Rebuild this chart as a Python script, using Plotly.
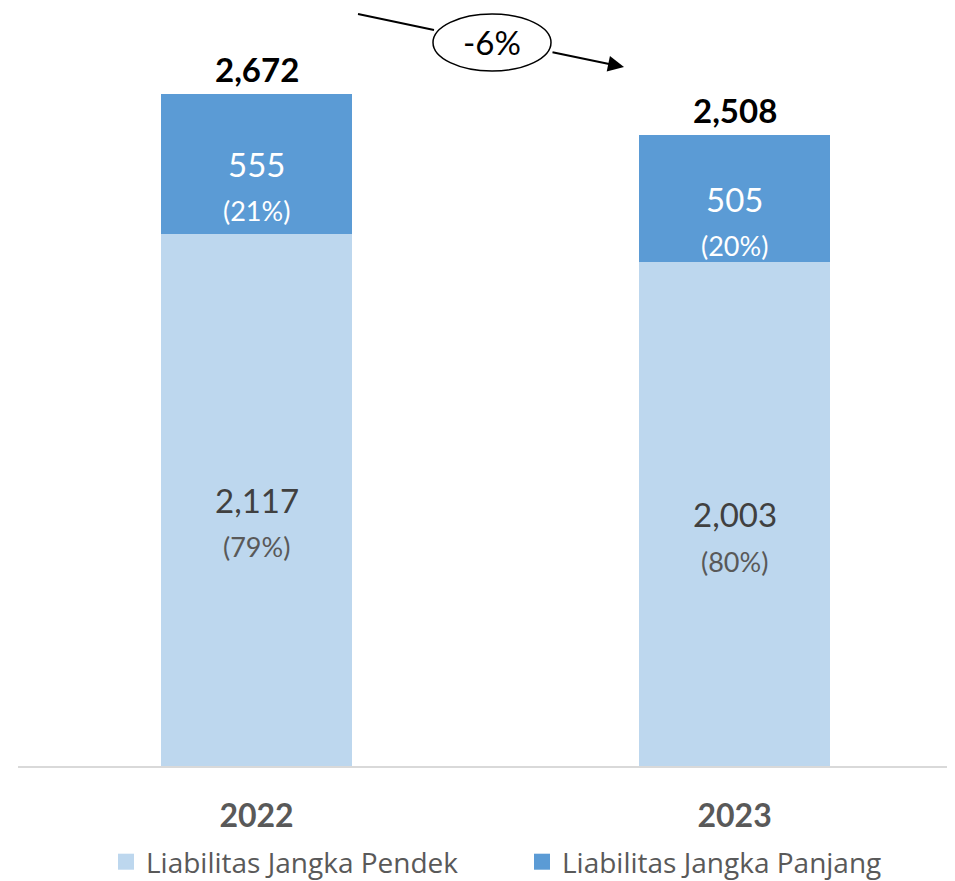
import plotly.graph_objects as go

years = ["2022", "2023"]
short_term = [2117, 2003]
long_term = [555, 505]
short_pct = ["(79%)", "(80%)"]
long_pct = ["(21%)", "(20%)"]
totals = [2672, 2508]
change_label = "-6%"
series_names = ["Liabilitas Jangka Pendek", "Liabilitas Jangka Panjang"]

OFF = 8  # default page body margin
W, H = 955 - OFF, 881 - OFF
ML, MT, MB = 10, 0, 115
plot_h = H - MT - MB
Y_MAX = 3014
X_RANGE = [-0.499, 1.461]
px_per_x = (W - ML) / (X_RANGE[1] - X_RANGE[0])


def px_to_x(sx):
    return X_RANGE[0] + (sx - OFF - ML) / px_per_x


def py_to_y(sy):
    return (MT + plot_h - (sy - OFF)) / plot_h * Y_MAX


LIGHT = "#BDD7EE"
DARK = "#5B9BD5"
NUM_FONT = "Lato"

fig = go.Figure()
fig.add_trace(go.Bar(x=years, y=short_term, name=series_names[0],
                     marker=dict(color=LIGHT, line=dict(width=0)), width=0.4,
                     hoverinfo="skip", showlegend=False))
fig.add_trace(go.Bar(x=years, y=long_term, name=series_names[1],
                     marker=dict(color=DARK, line=dict(width=0)), width=0.4,
                     hoverinfo="skip", showlegend=False))
# legend entries with larger square swatches
for name, col in zip(series_names, [LIGHT, DARK]):
    fig.add_trace(go.Scatter(x=[None], y=[None], mode="markers", name=name,
                             marker=dict(symbol="square", size=18, color=col),
                             showlegend=True, hoverinfo="skip"))

ann = []
for i, yr in enumerate(years):
    s, l = short_term[i], long_term[i]
    ann.append(dict(x=i, y=s / 2, text=f"{s:,}", showarrow=False, yanchor="middle",
                    font=dict(family=NUM_FONT, size=33, color="#404040")))
    ann.append(dict(x=i, y=s / 2, yshift=-47, text=short_pct[i], showarrow=False,
                    yanchor="middle", font=dict(family=NUM_FONT, size=27, color="#595959")))
    ann.append(dict(x=i, y=s + l / 2, text=f"{l:,}", showarrow=False, yanchor="middle",
                    font=dict(family=NUM_FONT, size=33, color="white")))
    ann.append(dict(x=i, y=s + l / 2, yshift=-47, text=long_pct[i], showarrow=False,
                    yanchor="middle", font=dict(family=NUM_FONT, size=27, color="white")))
    ann.append(dict(x=i, y=totals[i], yshift=25, text=f"<b>{totals[i]:,}</b>", showarrow=False,
                    yanchor="middle", font=dict(family=NUM_FONT, size=33, color="black")))

# arrow segment after ellipse
ann.append(dict(x=px_to_x(624), y=py_to_y(67), ax=px_to_x(551), ay=py_to_y(52),
                axref="x", ayref="y", xref="x", yref="y", showarrow=True,
                arrowhead=2, arrowsize=1.6, arrowwidth=2, arrowcolor="black", text=""))
ann.append(dict(x=px_to_x(492), y=py_to_y(42), text=change_label, showarrow=False,
                font=dict(family=NUM_FONT, size=33, color="black")))

shapes = [
    dict(type="line", xref="x", yref="y", x0=px_to_x(358), y0=py_to_y(14),
         x1=px_to_x(434), y1=py_to_y(30), line=dict(color="black", width=2)),
    dict(type="circle", xref="x", yref="y", x0=px_to_x(433), x1=px_to_x(551),
         y0=py_to_y(71), y1=py_to_y(14), fillcolor="white",
         line=dict(color="black", width=1.5), layer="above"),
]

fig.update_layout(
    barmode="stack",
    width=W, height=H,
    margin=dict(l=ML, r=0, t=MT, b=MB),
    plot_bgcolor="white", paper_bgcolor="white",
    annotations=ann, shapes=shapes,
    showlegend=True,
    legend=dict(orientation="h", xref="container", yref="container",
                x=(106 - OFF) / W, y=1 - (862 - OFF) / H, xanchor="left", yanchor="middle",
                entrywidth=371, entrywidthmode="pixels", traceorder="normal",
                font=dict(family="Open Sans", size=28, color="#595959")),
    xaxis=dict(type="category", range=X_RANGE, showline=True, linecolor="#D9D9D9",
               linewidth=2, showgrid=False, ticks="", ticklabelstandoff=21,
               tickfont=dict(family=NUM_FONT, size=32, color="#595959"),
               tickprefix="<b>", ticksuffix="</b>", fixedrange=True),
    yaxis=dict(range=[0, Y_MAX], visible=False, showgrid=False, fixedrange=True),
)

fig.write_html("out.html")
